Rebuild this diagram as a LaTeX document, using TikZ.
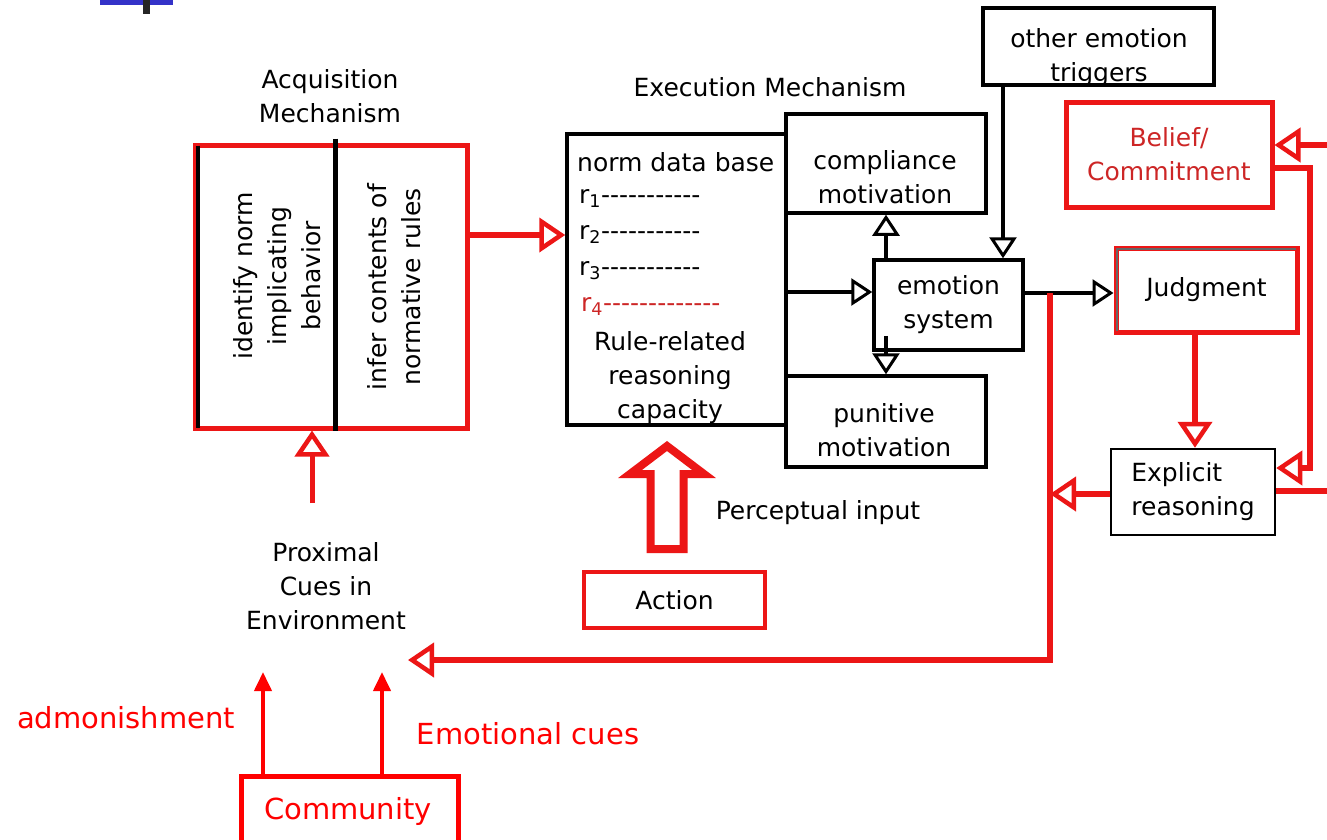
\documentclass[tikz,border=0pt]{standalone}
\usepackage{fontspec}
\setmainfont{DejaVu Sans}
\usetikzlibrary{arrows.meta}

\definecolor{boxred}{RGB}{236,22,22}
\definecolor{cuered}{RGB}{255,0,0}
\definecolor{textred}{RGB}{205,38,38}
\definecolor{slideblue}{RGB}{52,50,200}

\newcommand{\hyph}[1]{\foreach \k in {1,...,#1}{\mbox{-}}}

\begin{document}
\begin{tikzpicture}[x=1pt, y=-1pt,
    font=\fontsize{25}{34}\selectfont,
    box/.style={draw, line width=3.5pt, inner sep=0pt},
    redbox/.style={draw=boxred, line width=5pt, inner sep=0pt},
    txt/.style={align=center, inner sep=0pt},
    cuetxt/.style={text=cuered, font=\fontsize{29}{34}\selectfont, inner sep=0pt},
    blkarrow/.style={line width=3.5pt, -{Triangle[open, length=21pt, width=27pt, line width=3pt]}},
    redarrow/.style={draw=boxred, line width=6pt, -{Triangle[open, length=26pt, width=34pt, line width=4.5pt]}},
    cuearrow/.style={draw=cuered, line width=4pt, -{Triangle[length=19pt, width=17pt]}}]
  \clip (0,0) rectangle (1327,839);
  \fill[white] (0,0) rectangle (1327,839);

  % what is left of the slide title
  \fill[slideblue] (100,0) rectangle (173,5);
  \fill[black!85] (143,0) rectangle (150,14);

  % acquisition
  \node[txt] (acqtitle) at (330,96) {Acquisition\\Mechanism};
  \node[redbox, minimum width=272pt, minimum height=283pt] (acq) at (331,286.5) {};
  \draw[line width=4pt] ([xshift=5pt, yshift=-3pt]acq.north west) -- ([xshift=5pt, yshift=3pt]acq.south west);
  \draw[line width=5pt] ([xshift=4pt, yshift=4pt]acq.north) -- ([xshift=4pt]acq.south);
  \node[txt, rotate=90] (idtxt) at (277,276) {identify norm\\implicating\\behavior};
  \node[txt, rotate=90] (inftxt) at (394,287) {infer contents of\\normative rules};

  % execution
  \node[txt] (exectitle) at (770,87) {Execution Mechanism};
  \node[box, minimum width=219pt, minimum height=291pt] (norm) at (676.5,279.5) {};
  \node[anchor=base west, inner sep=0pt] (ndb) at (577,171) {norm data base};
  \node[anchor=base west, inner sep=0pt] (rone) at (579,203) {r\textsubscript{1}\hyph{11}};
  \node[anchor=base west, inner sep=0pt] (rtwo) at (579,239) {r\textsubscript{2}\hyph{11}};
  \node[anchor=base west, inner sep=0pt] (rthree) at (579,275) {r\textsubscript{3}\hyph{11}};
  \node[anchor=base west, inner sep=0pt, text=textred] (rfour) at (581,311) {r\textsubscript{4}\hyph{13}};
  \node[txt] (rulecap) at (670,378) {Rule-related\\reasoning\\capacity};

  \node[box, minimum width=200pt, minimum height=99pt] (comp) at (886,163.5) {};
  \node[txt] (comptxt) at (885,177) {compliance\\motivation};
  \node[box, txt, minimum width=149pt, minimum height=90pt] (emo) at (948.5,305) {emotion\\system};
  \node[box, minimum width=200pt, minimum height=91pt] (pun) at (886,421.5) {};
  \node[txt] (puntxt) at (884,430) {punitive\\motivation};
  \node[box, minimum width=231pt, minimum height=77pt] (trig) at (1098.5,46.5) {};
  \node[txt] (trigtxt) at (1099,58) {other emotion\\triggers};

  % judgment side
  \node[redbox, txt, text=textred, minimum width=206pt, minimum height=105pt] (belief) at (1169,154.5) {Belief/\\Commitment};
  \node[redbox, minimum width=181pt, minimum height=84pt] (judg) at (1206.5,290) {Judgment};
  \draw[black!60, line width=1.2pt] ([xshift=3.5pt, yshift=3.5pt]judg.south west) -- ([xshift=3.5pt, yshift=-3.5pt]judg.north west) -- ([xshift=-3.5pt, yshift=-3.5pt]judg.north east);
  \node[box, line width=2.5pt, align=left, minimum width=164pt, minimum height=86pt] (expl) at (1193,492) {Explicit\\reasoning};

  % input side
  \node[redbox, line width=4pt, minimum width=181pt, minimum height=56pt] (act) at (674.5,600) {Action};
  \node[inner sep=0pt] (perc) at (818,513) {Perceptual input};
  \node[txt] (prox) at (326,586) {Proximal\\Cues in\\Environment};
  \node[redbox, draw=cuered, minimum width=217pt, minimum height=90pt] (comm) at (349.5,821) {};
  \node[cuetxt] (commtxt) at (348,811) {Community};
  \node[cuetxt] (admtxt) at (126,718) {admonishment};
  \node[cuetxt] (emotxt) at (528,734) {Emotional cues};

  \coordinate (feedrow) at (0,235);
  \coordinate (emorow) at (0,292);
  \coordinate (judgrow) at (0,293);
  \coordinate (trigx) at (1003,0);
  \coordinate (jx) at (1195,0);
  \coordinate (proxtop) at (312,503);
  \coordinate (fbtop) at (1050,293);
  \coordinate (proxin) at (408,660);
  \coordinate (explrow) at (0,494);
  \coordinate (beliefin) at (1327,145);
  \coordinate (loopout) at (1310,168);
  \coordinate (loopin) at (1310,468);
  \coordinate (explout) at (1327,491);
  \coordinate (adm) at (263,672);
  \coordinate (emc) at (382,672);
  \coordinate (emobot) at ([yshift=16pt]emo.south);

  \draw[redarrow] (acq.east |- feedrow) -- (norm.west |- feedrow);
  \draw[redarrow, line width=5pt] (proxtop) -- (proxtop |- acq.south);

  \draw[blkarrow] (norm.east |- emorow) -- (emo.west |- emorow);
  \draw[blkarrow] (comp.south |- emo.north) -- (comp.south);
  \draw[blkarrow] (emobot -| pun.north) -- (pun.north);
  \draw[blkarrow] (trig.south -| trigx) -- (emo.north -| trigx);
  \draw[blkarrow] (emo.east |- judgrow) -- (judg.west |- judgrow);

  \draw[redarrow] (judg.south -| jx) -- (expl.north -| jx);
  \draw[redarrow] (fbtop) |- (proxin);
  \draw[redarrow] (expl.west |- explrow) -- (fbtop |- explrow);
  \draw[redarrow] (beliefin) -- (belief.east |- beliefin);
  \draw[redarrow] (belief.east |- loopout) -| (loopin) -- (expl.east |- loopin);
  \draw[boxred, line width=6pt] (expl.east |- explout) -- (explout);

  % hollow arrow from action
  \draw[boxred, line width=8pt] (650.5,549) -- (650.5,474) -- (630,474) -- (667,446)
    -- (704,474) -- (683.5,474) -- (683.5,549) -- cycle;

  \draw[cuearrow] (adm |- comm.north) -- (adm);
  \draw[cuearrow] (emc |- comm.north) -- (emc);
\end{tikzpicture}
\end{document}
